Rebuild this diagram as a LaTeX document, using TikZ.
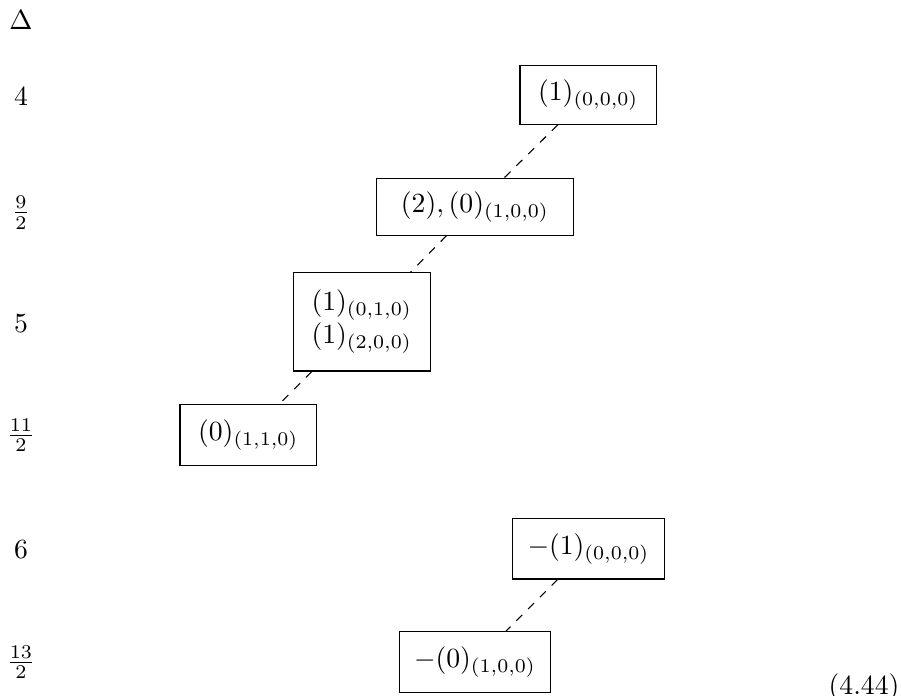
\documentclass[tikz,border=0pt]{standalone}
\begin{document}
\begin{tikzpicture}[x=0.361pt,y=-0.361pt,
  box/.style={draw, line width=0.4pt, inner sep=0pt, rectangle, align=center},
  lvl/.style={anchor=base, inner sep=0pt},
  link/.style={dashed, line width=0.4pt}]
\useasboundingbox (0,0) rectangle (901,696);
% level labels
\node[lvl] (d)  at (21,29.3)  {$\Delta$};
\node[lvl] (l1) at (21,106)   {$4$};
\node[lvl] (l2) at (21,219.6) {$\frac{9}{2}$};
\node[lvl] (l3) at (21,333)   {$5$};
\node[lvl] (l4) at (21,442)   {$\frac{11}{2}$};
\node[lvl] (l5) at (21,559)   {$6$};
\node[lvl] (l6) at (21,669.2) {$\frac{13}{2}$};
% boxes
\node[box, minimum width=49.35pt, minimum height=21.4pt] (b1) at (588.3,94.7) {$(1)_{(0,0,0)}$};
\node[box, minimum width=71pt, minimum height=20.5pt] (b2) at (475,206.7) {$(2),(0)_{(1,0,0)}$};
\node[box, minimum width=49.35pt, minimum height=35.5pt] (b3) at (361.7,321.8) {$(1)_{(0,1,0)}$\\$(1)_{(2,0,0)}$};
\node[box, minimum width=49.35pt, minimum height=21.7pt] (b4) at (248.3,435) {$(0)_{(1,1,0)}$};
\node[box, minimum width=54.7pt, minimum height=21.9pt] (b5) at (588.5,548.7) {$-(1)_{(0,0,0)}$};
\node[box, minimum width=54.7pt, minimum height=21.9pt] (b6) at (475,662) {$-(0)_{(1,0,0)}$};
% connectors
\draw[link] (b1) -- (b2);
\draw[link] (b2) -- (b3);
\draw[link] (b3) -- (b4);
\draw[link] (b5) -- (b6);
% equation number
\node[anchor=base east, inner sep=0pt] (eq) at (900,694) {(4.44)};
\end{tikzpicture}
\end{document}
